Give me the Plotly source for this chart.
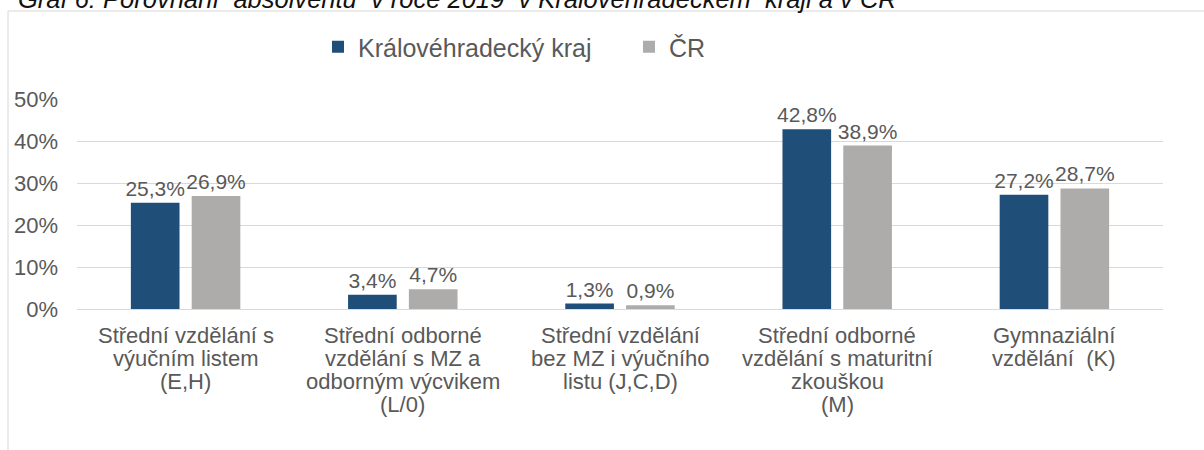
import plotly.graph_objects as go

categories = [
    "Střední vzdělání s<br>výučním listem<br>(E,H)",
    "Střední odborné<br>vzdělání s MZ a<br>odborným výcvikem<br>(L/0)",
    "Střední vzdělání<br>bez MZ i výučního<br>listu (J,C,D)",
    "Střední odborné<br>vzdělání s maturitní<br>zkouškou<br>(M)",
    "Gymnaziální<br>vzdělání  (K)",
]
kraj_values = [25.3, 3.4, 1.3, 42.8, 27.2]
cr_values = [26.9, 4.7, 0.9, 38.9, 28.7]
series_names = ["Královéhradecký kraj", "ČR"]
title_text = "Graf 6: Porovnání  absolventů  v roce 2019  v Královéhradeckém  kraji a v ČR"

FONT = "Liberation Sans, Arial, sans-serif"
TXT = "#595959"

W, H = 1204, 450
L, R, T, B = 77, 41, 99, 141
PW, PH = W - L - R, H - T - B

def px_x(p):
    return (p - L) / PW

def px_y(p):
    return (H - B - p) / PH

fig = go.Figure()
for name, vals, col in [(series_names[0], kraj_values, "#1F4E79"),
                        (series_names[1], cr_values, "#AEABAB")]:
    fig.add_trace(go.Bar(
        x=categories, y=vals, name=name, marker_color=col,
        marker_line_width=0,
        texttemplate="%{y:.1f}%", textposition="outside",
        textfont=dict(family=FONT, size=21, color=TXT),
        constraintext="none", cliponaxis=False,
    ))

annotations = []
# category labels, one line per annotation for tight line spacing
for cat in categories:
    for j, line in enumerate(cat.split("<br>")):
        base = 343 + 23 * j
        annotations.append(dict(
            x=cat, xref="x", y=px_y(base - 7.6), yref="paper",
            text=line, showarrow=False, xanchor="center", yanchor="middle",
            borderpad=0,
            font=dict(family=FONT, size=22, color=TXT),
        ))
# title (partly cropped at top, as in the source image)
annotations.append(dict(
    x=px_x(16), xref="paper", y=px_y(15), yref="paper",
    text=title_text, showarrow=False, xanchor="left", yanchor="bottom",
    font=dict(family=FONT, size=25.5, color="#111111", style="italic"),
))

fig.update_layout(
    width=W, height=H,
    margin=dict(l=L, r=R, t=T, b=B, autoexpand=False),
    paper_bgcolor="white", plot_bgcolor="white",
    separators=", ",
    barmode="group", bargap=0.44, bargroupgap=0.2,
    showlegend=True,
    legend=dict(orientation="h", x=px_x(318), xanchor="left",
                y=px_y(47), yanchor="middle",
                font=dict(family=FONT, size=25, color=TXT),
                entrywidth=266, entrywidthmode="pixels",
                bgcolor="rgba(0,0,0,0)"),
    annotations=annotations,
    shapes=[dict(type="rect", xref="paper", yref="paper",
                 x0=px_x(8), x1=px_x(1300), y0=px_y(600), y1=px_y(11),
                 line=dict(color="#d6d6d6", width=1), layer="below")],
    xaxis=dict(showticklabels=False, showline=False, showgrid=False,
               zeroline=False, ticks=""),
    yaxis=dict(range=[0, 50], dtick=10, ticksuffix="%", tickformat="d",
               showgrid=True, gridcolor="#d9d9d9", gridwidth=1,
               zeroline=True, zerolinecolor="#d9d9d9", zerolinewidth=1,
               showline=False, ticks="", ticklabelstandoff=18,
               tickfont=dict(family=FONT, size=22, color=TXT)),
)

fig.write_html(
    "out.html",
    config={"displayModeBar": False},
    post_script="document.body.style.margin='0';document.body.style.overflow='hidden';",
)
